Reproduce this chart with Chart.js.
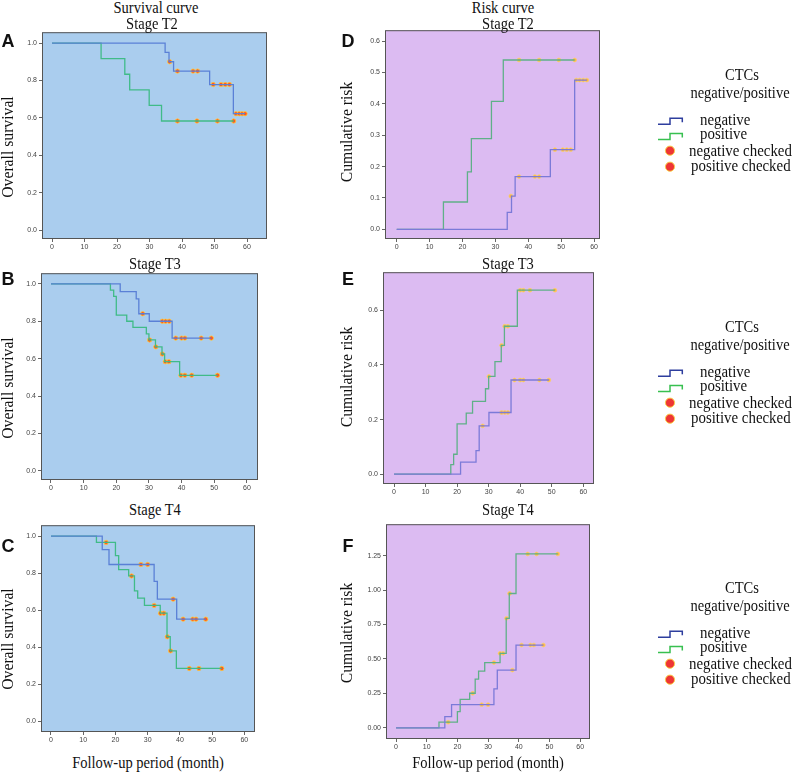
<!DOCTYPE html>
<html>
<head>
<meta charset="utf-8">
<script src="https://cdn.jsdelivr.net/npm/chart.js@4.4.1/dist/chart.umd.min.js"></script>
<style>
  body { margin: 0; background: #fff; }
  #page { position: relative; width: 800px; height: 772px; overflow: hidden;
          font-family: "Liberation Serif", "Times New Roman", serif; color: #111; }
  .txt { position: absolute; white-space: nowrap; line-height: 1; font-size: 16.5px;
         transform: translate(-50%, -50%) scaleX(0.88); }
  .txtL { position: absolute; white-space: nowrap; line-height: 1; font-size: 16px;
          transform-origin: left center; transform: translateY(-50%) scaleX(0.93); }
  .ytitle { position: absolute; white-space: nowrap; line-height: 1; font-size: 16.5px;
            transform: translate(-50%, -50%) rotate(-90deg) scaleX(0.95); }
  .letter { position: absolute; line-height: 1; font: bold 18px "Liberation Sans", Arial, sans-serif;
            transform: translate(-50%, -50%); }
</style>
</head>
<body>
<div id="page"></div>
<script>
// ---- axis ticks ----
const xTicks = [0, 10, 20, 30, 40, 50, 60];
const survTicks = [0, 0.2, 0.4, 0.6, 0.8, 1.0];
const riskT2Ticks = [0, 0.1, 0.2, 0.3, 0.4, 0.5, 0.6];
const riskT3Ticks = [0, 0.2, 0.4, 0.6];
const riskT4Ticks = [0, 0.25, 0.5, 0.75, 1.0, 1.25];

// ---- Stage T2, survival ----
const t2SurvNegT = [0, 34.8, 36.0, 37.4, 48.5, 55.8, 59.4];
const t2SurvNegY = [1, 0.95, 0.90, 0.85, 0.778, 0.622, 0.622];
const t2SurvNegCT = [36.2, 38.6, 43.4, 44.8, 49.6, 52.0, 53.3, 54.6, 56.6, 57.6, 58.5, 59.4];
const t2SurvNegCY = [0.90, 0.85, 0.85, 0.85, 0.778, 0.778, 0.778, 0.778, 0.622, 0.622, 0.622, 0.622];
const t2SurvPosT = [0, 15.1, 22.4, 23.9, 29.9, 33.7, 55.9];
const t2SurvPosY = [1, 0.917, 0.833, 0.75, 0.667, 0.583, 0.583];
const t2SurvPosCT = [38.6, 44.6, 50.9, 55.9];
const t2SurvPosCY = [0.583, 0.583, 0.583, 0.583];

// ---- Stage T2, risk ----
const t2RiskNegT = [0, 33.6, 34.9, 36.0, 46.7, 54.1, 57.8];
const t2RiskNegY = [0, 0.054, 0.106, 0.168, 0.254, 0.476, 0.476];
const t2RiskNegCT = [34.7, 37.2, 42.0, 43.3, 48.1, 50.5, 51.7, 52.9, 54.6, 55.6, 56.7, 57.8];
const t2RiskNegCY = [0.106, 0.168, 0.168, 0.168, 0.254, 0.254, 0.254, 0.254, 0.476, 0.476, 0.476, 0.476];
const t2RiskPosT = [0, 14.2, 21.5, 22.7, 28.8, 32.4, 54.1];
const t2RiskPosY = [0, 0.087, 0.183, 0.289, 0.408, 0.540, 0.540];
const t2RiskPosCT = [37.2, 43.3, 49.3, 54.1];
const t2RiskPosCY = [0.540, 0.540, 0.540, 0.540];

// ---- Stage T3, survival ----
const t3SurvNegT = [0, 21.2, 26.1, 26.9, 30.1, 37.1, 49.1];
const t3SurvNegY = [1, 0.958, 0.92, 0.84, 0.80, 0.71, 0.71];
const t3SurvNegCT = [28.1, 34.1, 35.1, 36.2, 38.2, 40.0, 41.0, 46.0, 49.1];
const t3SurvNegCY = [0.84, 0.80, 0.80, 0.80, 0.71, 0.71, 0.71, 0.71, 0.71];
const t3SurvPosT = [0, 18.2, 19.2, 20.0, 23.2, 25.1, 29.2, 30.0, 32.0, 34.0, 34.8, 39.4, 51.0];
const t3SurvPosY = [1, 0.967, 0.933, 0.833, 0.80, 0.767, 0.733, 0.70, 0.663, 0.625, 0.584, 0.511, 0.511];
const t3SurvPosCT = [30.2, 32.1, 34.1, 35.0, 36.1, 39.8, 41.0, 43.1, 51.0];
const t3SurvPosCY = [0.70, 0.663, 0.625, 0.584, 0.584, 0.511, 0.511, 0.511, 0.511];

// ---- Stage T3, risk ----
const t3RiskNegT = [0, 21.1, 26.0, 27.0, 30.1, 37.1, 49.1];
const t3RiskNegY = [0, 0.044, 0.086, 0.177, 0.226, 0.345, 0.345];
const t3RiskNegCT = [28.1, 34.1, 35.1, 36.1, 38.2, 40.0, 41.0, 46.1, 49.1];
const t3RiskNegCY = [0.177, 0.226, 0.226, 0.226, 0.345, 0.345, 0.345, 0.345, 0.345];
const t3RiskPosT = [0, 18.0, 18.9, 20.0, 22.9, 24.9, 29.0, 30.0, 32.0, 34.0, 35.0, 39.1, 51.0];
const t3RiskPosY = [0, 0.035, 0.073, 0.184, 0.224, 0.267, 0.313, 0.358, 0.412, 0.472, 0.542, 0.674, 0.674];
const t3RiskPosCT = [30.1, 34.1, 35.1, 36.1, 40.0, 41.0, 43.1, 51.0];
const t3RiskPosCY = [0.358, 0.472, 0.542, 0.542, 0.674, 0.674, 0.674, 0.674];

// ---- Stage T4, survival ----
const t4SurvNegT = [0, 15.9, 18.0, 32.0, 33.0, 39.0, 48.0];
const t4SurvNegY = [1, 0.927, 0.847, 0.756, 0.66, 0.552, 0.552];
const t4SurvNegCT = [27.9, 30.0, 37.9, 41.0, 44.0, 45.0, 48.0];
const t4SurvNegCY = [0.847, 0.847, 0.66, 0.552, 0.552, 0.552, 0.552];
const t4SurvPosT = [0, 14.1, 20.0, 21.0, 24.1, 25.9, 26.9, 29.0, 33.9, 36.0, 37.0, 38.9, 53.0];
const t4SurvPosY = [1, 0.966, 0.895, 0.819, 0.785, 0.705, 0.665, 0.626, 0.584, 0.457, 0.381, 0.286, 0.286];
const t4SurvPosCT = [17.1, 25.0, 32.0, 34.0, 35.0, 36.1, 37.1, 42.9, 45.9, 53.0];
const t4SurvPosCY = [0.966, 0.785, 0.626, 0.584, 0.584, 0.457, 0.381, 0.286, 0.286, 0.286];

// ---- Stage T4, risk ----
const t4RiskNegT = [0, 15.9, 18.1, 31.9, 33.0, 39.1, 48.0];
const t4RiskNegY = [0, 0.081, 0.168, 0.283, 0.419, 0.601, 0.601];
const t4RiskNegCT = [27.9, 30.0, 37.9, 40.9, 43.8, 44.9, 48.0];
const t4RiskNegCY = [0.168, 0.168, 0.419, 0.601, 0.601, 0.601, 0.601];
const t4RiskPosT = [0, 14.0, 20.0, 20.9, 24.0, 25.8, 26.9, 28.9, 33.9, 35.9, 36.9, 39.1, 52.7];
const t4RiskPosY = [0, 0.041, 0.117, 0.206, 0.251, 0.354, 0.412, 0.474, 0.541, 0.795, 0.975, 1.262, 1.262];
const t4RiskPosCT = [17.0, 25.0, 31.9, 33.9, 34.9, 36.0, 37.0, 42.9, 45.8, 52.7];
const t4RiskPosCY = [0.041, 0.251, 0.474, 0.541, 0.541, 0.795, 0.975, 1.262, 1.262, 1.262];

const page = document.getElementById('page');
const pts = (xs, ys) => xs.map((x, i) => ({ x: x, y: ys[i] }));

const themes = {
  surv: { bg: '#aacdee', neg: '#5a80d6', pos: '#40bb88', dot: '#ff5522', dotEdge: '#ffcf3a', r: 2.2 },
  risk: { bg: '#dcbbf2', neg: '#7b7ad8', pos: '#5fb088', dot: '#ffb444', dotEdge: '#f8d070', r: 1.9 }
};

// fills the plot area and draws the frame
const plotBox = {
  id: 'plotBox',
  beforeDraw(chart, args, opts) {
    const a = chart.chartArea, ctx = chart.ctx;
    ctx.save();
    ctx.fillStyle = opts.bg;
    ctx.fillRect(a.left, a.top, a.right - a.left, a.bottom - a.top);
    ctx.restore();
  },
  afterDraw(chart) {
    const a = chart.chartArea, ctx = chart.ctx;
    ctx.save();
    ctx.strokeStyle = '#555';
    ctx.lineWidth = 1;
    ctx.strokeRect(a.left + 0.5, a.top + 0.5, a.right - a.left - 1, a.bottom - a.top - 1);
    ctx.restore();
  }
};

function panel(box, xr, yr, yTicks, dec, th, neg, pos) {
  const W = box.r - box.l + 44, H = box.b - box.t + 20;
  const cv = document.createElement('canvas');
  cv.width = W; cv.height = H;
  cv.style.cssText = 'position:absolute;left:' + (box.l - 40) + 'px;top:' + (box.t - 4) + 'px;width:' + W + 'px;height:' + H + 'px';
  page.appendChild(cv);

  const stepSet = (s, col) => ({
    data: pts(s[0], s[1]), stepped: true, borderColor: col, borderWidth: 1.3,
    pointRadius: 0, fill: false
  });
  const dotSet = (s) => ({
    data: pts(s[2], s[3]), showLine: false, pointRadius: th.r, pointStyle: 'circle',
    backgroundColor: th.dot, borderColor: th.dotEdge, borderWidth: 0.8
  });

  new Chart(cv, {
    type: 'line',
    data: { datasets: [stepSet(neg, th.neg), stepSet(pos, th.pos), dotSet(neg), dotSet(pos)] },
    options: {
      responsive: false, animation: false, events: [],
      layout: { autoPadding: false, padding: { top: 4, right: 4, left: 0, bottom: 0 } },
      plugins: { legend: { display: false }, tooltip: { enabled: false }, plotBox: { bg: th.bg } },
      scales: {
        x: {
          type: 'linear', min: xr[0], max: xr[1],
          afterBuildTicks: s => { s.ticks = xTicks.map(v => ({ value: v })); },
          afterFit: s => { s.height = 16; },
          grid: { drawOnChartArea: false, tickLength: 3, color: '#666' },
          border: { display: false },
          ticks: { font: { size: 7, family: 'Liberation Sans' }, color: '#444', padding: 1,
                   maxRotation: 0, autoSkip: false, callback: v => String(v) }
        },
        y: {
          type: 'linear', min: yr[0], max: yr[1],
          afterBuildTicks: s => { s.ticks = yTicks.map(v => ({ value: v })); },
          afterFit: s => { s.width = 40; },
          grid: { drawOnChartArea: false, tickLength: 3, color: '#666' },
          border: { display: false },
          ticks: { font: { size: 7, family: 'Liberation Sans' }, color: '#444', padding: 2,
                   autoSkip: false, callback: v => v.toFixed(dec) }
        }
      }
    },
    plugins: [plotBox]
  });
}

panel({ l: 42, t: 30, r: 267, b: 239 }, [-3.08, 66.15], [-0.048, 1.058], survTicks, 1, themes.surv,
  [t2SurvNegT, t2SurvNegY, t2SurvNegCT, t2SurvNegCY], [t2SurvPosT, t2SurvPosY, t2SurvPosCT, t2SurvPosCY]);
panel({ l: 385, t: 28, r: 600, b: 239 }, [-3.56, 61.8], [-0.031, 0.635], riskT2Ticks, 1, themes.risk,
  [t2RiskNegT, t2RiskNegY, t2RiskNegCT, t2RiskNegCY], [t2RiskPosT, t2RiskPosY, t2RiskPosCT, t2RiskPosCY]);
panel({ l: 41, t: 271, r: 258, b: 480 }, [-3.06, 63.4], [-0.049, 1.057], survTicks, 1, themes.surv,
  [t3SurvNegT, t3SurvNegY, t3SurvNegCT, t3SurvNegCY], [t3SurvPosT, t3SurvPosY, t3SurvPosCT, t3SurvPosCY]);
panel({ l: 383, t: 270, r: 594, b: 484 }, [-3.49, 63.4], [-0.036, 0.740], riskT3Ticks, 1, themes.risk,
  [t3RiskNegT, t3RiskNegY, t3RiskNegCT, t3RiskNegCY], [t3RiskPosT, t3RiskPosY, t3RiskPosCT, t3RiskPosCY]);
panel({ l: 41, t: 523, r: 255, b: 732 }, [-3.1, 63.3], [-0.057, 1.059], survTicks, 1, themes.surv,
  [t4SurvNegT, t4SurvNegY, t4SurvNegCT, t4SurvNegCY], [t4SurvPosT, t4SurvPosY, t4SurvPosCT, t4SurvPosCY]);
panel({ l: 386, t: 522, r: 590, b: 739 }, [-3.26, 63.2], [-0.081, 1.478], riskT4Ticks, 2, themes.risk,
  [t4RiskNegT, t4RiskNegY, t4RiskNegCT, t4RiskNegCY], [t4RiskPosT, t4RiskPosY, t4RiskPosCT, t4RiskPosCY]);

// ---- text ----
function text(cls, s, x, y) {
  const d = document.createElement('div');
  d.className = cls;
  d.textContent = s;
  d.style.left = x + 'px';
  d.style.top = y + 'px';
  page.appendChild(d);
}
text('txt', 'Survival curve', 156, 7.5);
text('txt', 'Stage T2', 152, 23.5);
text('txt', 'Risk curve', 503, 7.5);
text('txt', 'Stage T2', 508, 23.5);
text('txt', 'Stage T3', 155, 263.5);
text('txt', 'Stage T3', 508, 263.5);
text('txt', 'Stage T4', 155, 509.5);
text('txt', 'Stage T4', 508, 509.5);
text('txt', 'Follow-up period (month)', 148, 763);
text('txt', 'Follow-up period (month)', 488, 763);

text('ytitle', 'Overall survival', 8, 147);
text('ytitle', 'Overall survival', 8, 388);
text('ytitle', 'Overall survival', 8, 639);
text('ytitle', 'Cumulative risk', 347, 132);
text('ytitle', 'Cumulative risk', 347, 377);
text('ytitle', 'Cumulative risk', 347, 633);

text('letter', 'A', 8, 41);
text('letter', 'D', 348, 41);
text('letter', 'B', 8, 279);
text('letter', 'E', 348, 279);
text('letter', 'C', 8, 546);
text('letter', 'F', 348, 546);

// ---- legends ----
const svgNS = 'http://www.w3.org/2000/svg';
const svg = document.createElementNS(svgNS, 'svg');
svg.setAttribute('width', 800);
svg.setAttribute('height', 772);
svg.style.cssText = 'position:absolute;left:0;top:0';
page.appendChild(svg);

function legend(dy) {
  text('txt', 'CTCs', 742, 75 + dy);
  text('txt', 'negative/positive', 740, 93 + dy);
  text('txtL', 'negative', 700, 120 + dy);
  text('txtL', 'positive', 700, 134 + dy);
  text('txtL', 'negative checked', 689, 151 + dy);
  text('txtL', 'positive checked', 691, 166 + dy);
  [['#2e3e9e', 124.3], ['#38c050', 139.5]].forEach(([col, yb]) => {
    const p = document.createElementNS(svgNS, 'polyline');
    const y0 = yb + dy, y1 = yb - 6 + dy;
    p.setAttribute('points', '658,' + y0 + ' 670,' + y0 + ' 670,' + y1 + ' 682.3,' + y1 + ' 682.3,' + (y1 + 4));
    p.setAttribute('fill', 'none');
    p.setAttribute('stroke', col);
    p.setAttribute('stroke-width', 1.5);
    svg.appendChild(p);
  });
  [150.7, 166.7].forEach(cy => {
    const c = document.createElementNS(svgNS, 'circle');
    c.setAttribute('cx', 670);
    c.setAttribute('cy', cy + dy);
    c.setAttribute('r', 4.6);
    c.setAttribute('fill', '#ee3535');
    c.setAttribute('stroke', '#f8d24a');
    c.setAttribute('stroke-width', 1);
    svg.appendChild(c);
  });
}
legend(0);
legend(252);
legend(513);
</script>
</body>
</html>
